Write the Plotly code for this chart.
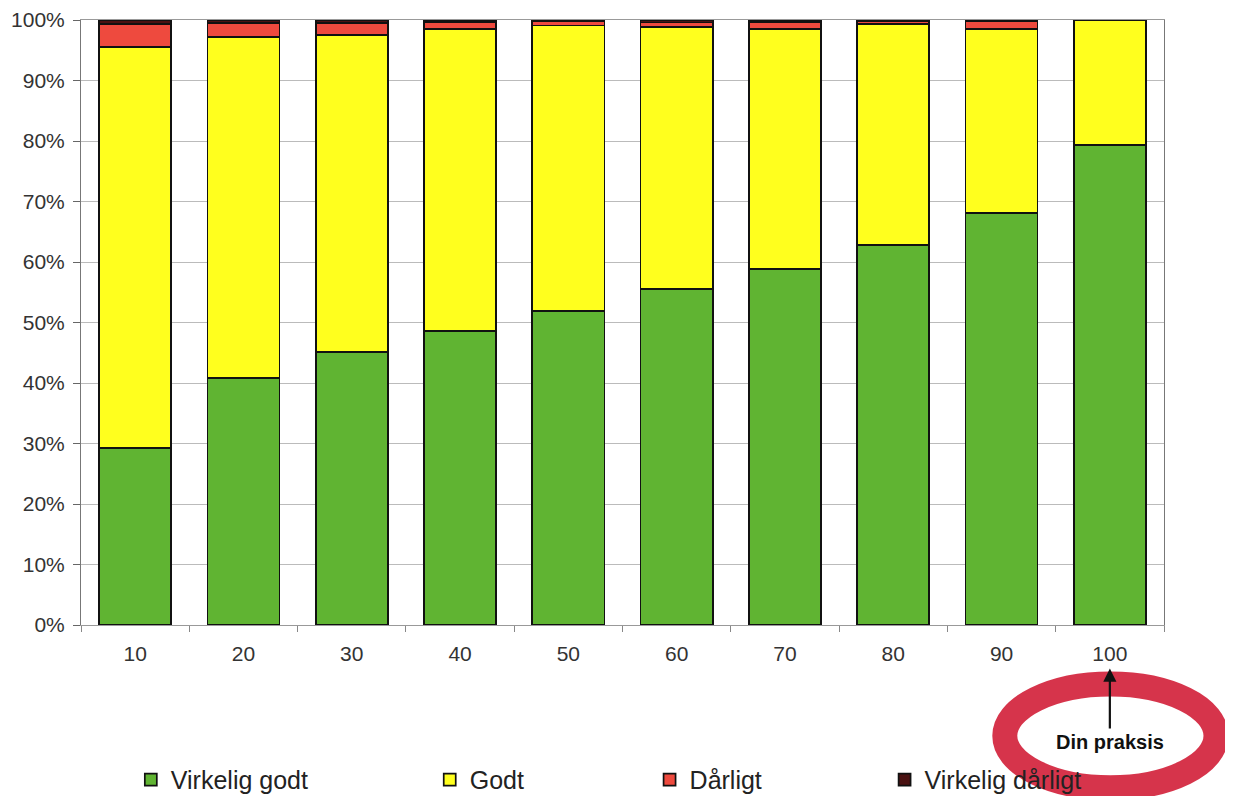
import plotly.graph_objects as go

categories = ["10", "20", "30", "40", "50", "60", "70", "80", "90", "100"]
virkelig_godt = [29.3, 40.8, 45.1, 48.6, 51.9, 55.5, 58.8, 62.8, 68.1, 79.3]
godt = [66.2, 56.4, 52.4, 49.9, 47.2, 43.3, 39.7, 36.5, 30.4, 20.7]
daarligt = [3.8, 2.3, 2.0, 1.2, 0.7, 0.8, 1.2, 0.5, 1.3, 0.0]
virkelig_daarligt = [0.7, 0.5, 0.5, 0.3, 0.2, 0.4, 0.3, 0.2, 0.2, 0.0]

series = [
    ("Virkelig godt", virkelig_godt, "#60B432", "legend"),
    ("Godt", godt, "#FFFF1E", "legend2"),
    ("Dårligt", daarligt, "#EE4A3E", "legend3"),
    ("Virkelig dårligt", virkelig_daarligt, "#4A1212", "legend4"),
]

fig = go.Figure()
for name, vals, color, lg in series:
    fig.add_trace(go.Bar(
        x=categories, y=[v / 100 for v in vals], name=name,
        marker=dict(color=color, line=dict(color="#111111", width=1.7)),
        legend=lg, showlegend=True,
    ))

font_family = "Liberation Sans, Arial, sans-serif"
legend_x = [0.046, 0.322, 0.525, 0.742]
legend_common = dict(orientation="h", yanchor="middle", xanchor="left", y=-0.256,
                     font=dict(family=font_family, size=25, color="#222"),
                     bgcolor="rgba(0,0,0,0)", itemwidth=30)

fig.update_layout(
    barmode="stack",
    bargap=0.335,
    showlegend=True,
    width=1225, height=788,
    margin=dict(l=73, r=69, t=12, b=171, autoexpand=False),
    paper_bgcolor="white", plot_bgcolor="white",
    font=dict(family=font_family, size=21, color="#333"),
    legend=dict(x=legend_x[0], **legend_common),
    legend2=dict(x=legend_x[1], **legend_common),
    legend3=dict(x=legend_x[2], **legend_common),
    legend4=dict(x=legend_x[3], **legend_common),
    xaxis=dict(
        type="category", range=[-0.5, 9.5], autorange=False, automargin=False,
        showgrid=False, tickson="boundaries", tickangle=0,
        ticks="outside", ticklen=6, tickcolor="#888", ticklabelstandoff=10,
        showline=True, linecolor="#999", linewidth=1.2, mirror=True,
        tickfont=dict(size=21, color="#333"),
    ),
    yaxis=dict(
        range=[0, 1], dtick=0.1, tickformat=".0%", automargin=False,
        showgrid=True, gridcolor="#bbbbbb", gridwidth=1,
        ticks="outside", ticklen=7, tickcolor="#666", ticklabelstandoff=4,
        showline=True, linecolor="#777", linewidth=1, mirror=True,
        zeroline=False, tickfont=dict(size=21, color="#333"),
    ),
)

# hand-drawn red circle
fig.add_shape(type="circle", xref="paper", yref="paper",
              x0=0.853, x1=1.048, y0=-0.269, y1=-0.0975,
              line=dict(color="rgba(210,35,60,0.92)", width=25), layer="above")

fig.add_annotation(
    x=9, xref="x", y=-0.072, yref="paper",
    ax=0, ay=60, axref="pixel", ayref="pixel",
    text="<b>Din praksis</b>", showarrow=True,
    arrowhead=2, arrowsize=1.2, arrowwidth=2.2, arrowcolor="#111",
    font=dict(family=font_family, size=20, color="#111"),
    yanchor="top", bgcolor="rgba(0,0,0,0)",
)

fig.write_html("out.html")
